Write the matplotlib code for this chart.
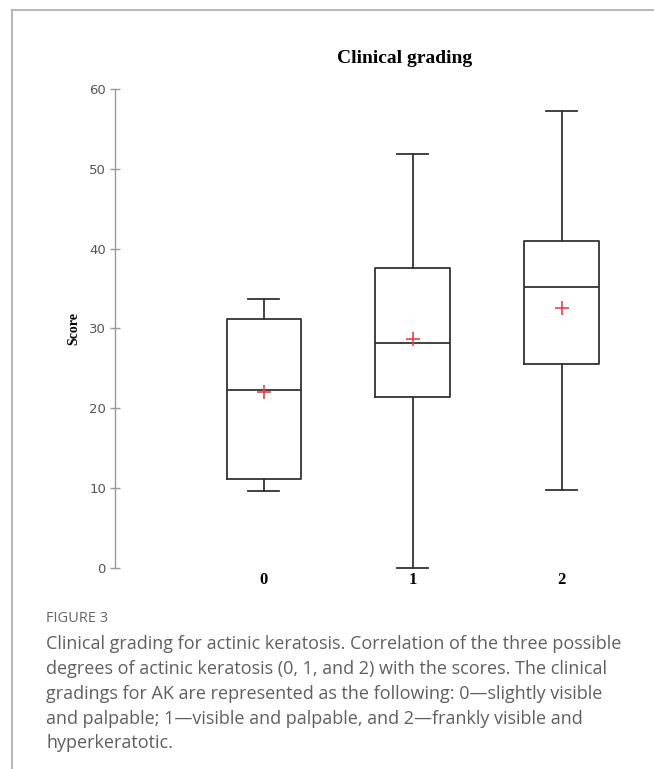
import matplotlib
matplotlib.use("Agg")
import matplotlib.pyplot as plt
from matplotlib.lines import Line2D

# =====================================================
# DATA
# =====================================================
grades = ["0", "1", "2"]
whisker_low = [9.7, 0.0, 9.8]
q1 = [11.1, 21.4, 25.5]
median = [22.3, 28.2, 35.2]
q3 = [31.2, 37.6, 40.9]
whisker_high = [33.7, 51.9, 57.3]
means = [22.0, 28.7, 32.6]

y_ticks = [0, 10, 20, 30, 40, 50, 60]

caption = ("Clinical grading for actinic keratosis. Correlation of the three possible\n"
           "degrees of actinic keratosis (0, 1, and 2) with the scores. The clinical\n"
           "gradings for AK are represented as the following: 0\u2014slightly visible\n"
           "and palpable; 1\u2014visible and palpable, and 2\u2014frankly visible and\n"
           "hyperkeratotic.")

# =====================================================
# FIGURE
# =====================================================
fig = plt.figure(figsize=(6.54, 7.69), dpi=100)
ax = fig.add_axes([0.1758, 0.2614, 0.7966, 0.6229])

positions = list(range(1, len(grades) + 1))
stats = []
for i, g in enumerate(grades):
    stats.append(dict(label=g, whislo=whisker_low[i], q1=q1[i], med=median[i],
                      q3=q3[i], whishi=whisker_high[i], mean=means[i], fliers=[]))

line_col = "#333333"
ax.bxp(stats, positions=positions, widths=0.5, showmeans=True,
       showfliers=False, capwidths=0.21,
       boxprops=dict(color=line_col, linewidth=1.3),
       medianprops=dict(color=line_col, linewidth=1.3),
       whiskerprops=dict(color=line_col, linewidth=1.3),
       capprops=dict(color=line_col, linewidth=1.3),
       meanprops=dict(marker="+", markeredgecolor="#e8434c", markersize=10,
                      markeredgewidth=1.2))
for art in ax.lines:
    art.set_clip_on(False)

ax.set_xlim(0, 3.5)
ax.set_ylim(0, 60)

# axis styling
for side in ["top", "right", "bottom"]:
    ax.spines[side].set_visible(False)
ax.spines["left"].set_color("#999999")
ax.spines["left"].set_linewidth(1.0)

ax.set_yticks(y_ticks)
ax.set_yticklabels([str(t) for t in y_ticks],
                   family=["Liberation Sans Narrow", "DejaVu Sans"])
ax.tick_params(axis="y", direction="inout", length=7, width=1.0,
               color="#999999", labelcolor="#555555", labelsize=9.5, pad=3)

ax.set_xticks(positions)
ax.set_xticklabels(grades, family="Liberation Serif", fontweight="bold",
                   fontsize=12)
ax.tick_params(axis="x", length=0, pad=3, labelcolor="black")

ax.set_ylabel("Score", family="Liberation Serif", fontweight="bold",
              fontsize=10, labelpad=6)

fig.text(0.619, 0.924, "Clinical grading", ha="center", va="center",
         family="Liberation Serif", fontweight="bold", fontsize=14)

# page frame
fig.add_artist(Line2D([0.019, 1.0], [0.987, 0.987], color="#aaaaaa", lw=1.2))
fig.add_artist(Line2D([0.019, 0.019], [0.0, 0.987], color="#aaaaaa", lw=1.2))

# caption
fig.text(0.071, 0.196, "FIGURE 3", ha="left", va="center",
         family="Open Sans", fontsize=10.5, color="#666666")
fig.text(0.071, 0.1743, caption, ha="left", va="top",
         family="Open Sans", fontsize=13, color="#5f5f5f", linespacing=1.49)

fig.savefig("out.png", dpi=100)
